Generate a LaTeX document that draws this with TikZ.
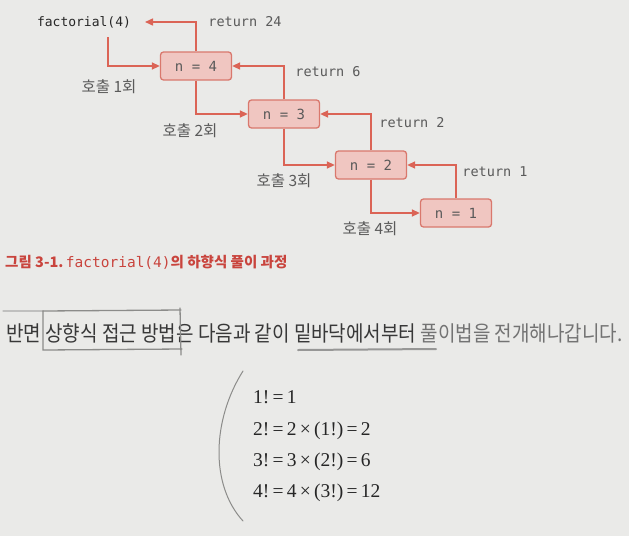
\documentclass[tikz,border=0pt]{standalone}
\usepackage{fontspec}
\usetikzlibrary{arrows.meta}
\newfontfamily\kr{Noto Sans CJK KR}
\newfontfamily\mono{DejaVu Sans Mono}
\newfontfamily\tnr{Liberation Serif}
\definecolor{paper}{HTML}{EAEAE8}
\definecolor{boxfill}{HTML}{F0C6C1}
\definecolor{boxline}{HTML}{D9786D}
\definecolor{arrowc}{HTML}{DB6456}
\definecolor{labelc}{HTML}{5A5A5A}
\definecolor{capred}{HTML}{C9443D}
\definecolor{pencil}{HTML}{8C8C8A}
\tikzset{
  callbox/.style={draw=boxline, fill=boxfill, line width=1.3pt, rounded corners=3pt,
    minimum width=71pt, minimum height=28pt, inner sep=0pt,
    font=\mono\fontsize{14}{16}\selectfont, text=labelc},
  flow/.style={draw=arrowc, line width=1.5pt, -{Triangle[length=8pt,width=7pt]}},
  retlabel/.style={font=\mono\fontsize{13.5}{15}\selectfont, text=labelc, inner sep=0pt},
  calllabel/.style={font=\kr\fontsize{15.5}{17}\selectfont, text=labelc, inner sep=0pt},
  mathline/.style={anchor=base west, inner sep=0pt, font=\tnr\fontsize{19.5}{22}\selectfont, text=black!85},
  pencilmark/.style={draw=pencil, line width=1.3pt, line cap=round}
}
\begin{document}
\begin{tikzpicture}[x=1pt,y=-1pt]
\fill[paper] (0,0) rectangle (629,536);
\useasboundingbox (0,0) rectangle (629,536);

% nodes
\node[font=\mono\fontsize{13}{15}\selectfont, text=black!85, inner sep=0pt] (f) at (84,22) {factorial(4)};
\node[callbox] (n4) at (196,66) {n = 4};
\node[callbox] (n3) at (284,114) {n = 3};
\node[callbox] (n2) at (371,165) {n = 2};
\node[callbox] (n1) at (456,213) {n = 1};

\coordinate (fstart) at (108,37);
\coordinate (ftip) at (145,22);

% call arrows
\draw[flow] (fstart) |- (n4.west);
\draw[flow] (n4.south) |- (n3.west);
\draw[flow] (n3.south) |- (n2.west);
\draw[flow] (n2.south) |- (n1.west);

% return arrows
\draw[flow] (n4.north) |- (ftip);
\draw[flow] (n3.north) |- (n4.east);
\draw[flow] (n2.north) |- (n3.east);
\draw[flow] (n1.north) |- (n2.east);

% labels
\node[retlabel] (r24) at (245,22) {return 24};
\node[retlabel] (r6) at (328,72) {return 6};
\node[retlabel] (r2) at (412,123) {return 2};
\node[retlabel] (r1) at (495,172) {return 1};
\node[calllabel] (c1) at (109,87) {호출 1회};
\node[calllabel] (c2) at (190,131) {호출 2회};
\node[calllabel] (c3) at (284,181) {호출 3회};
\node[calllabel] (c4) at (370,229) {호출 4회};

% caption
\node[anchor=west, inner sep=0pt, text=capred] (cap) at (5,262)
  {\kr\fontsize{14.5}{16}\selectfont\bfseries 그림 3-1.\,{\mono\mdseries\fontsize{14.5}{16}\selectfont factorial(4)}의 하향식 풀이 과정};

% paragraph
\node[anchor=west, inner sep=0pt] (para) at (6,333)
  {\scalebox{0.884}[1]{\kr\fontsize{21.5}{25}\selectfont\color{black!78}반면 상향식 접근 방법은 다음과 같이 밑바닥에서부터 \color{black!55}풀이법을 전개해나갑니다.}};

% pencil marks
\draw[pencilmark, draw=pencil!55] (3,311) -- (43,311);
\draw[pencilmark] (43,311) -- (181,310);
\draw[pencilmark] (43,311) -- (43,350) -- (182,349);
\draw[pencilmark] (180,308) -- (181,355);
\draw[pencilmark, line width=2pt, draw=pencil!90] (298,350) -- (436,349);
\draw[pencilmark, line width=1pt] (243,371) .. controls (212,420) and (210,485) .. (243,521);

% equations
\node[mathline] (e1) at (253,403) {1!\,=\,1};
\node[mathline] (e2) at (253,435) {2!\,=\,2\,×\,(1!)\,=\,2};
\node[mathline] (e3) at (253,466) {3!\,=\,3\,×\,(2!)\,=\,6};
\node[mathline] (e4) at (253,497) {4!\,=\,4\,×\,(3!)\,=\,12};
\end{tikzpicture}
\end{document}
